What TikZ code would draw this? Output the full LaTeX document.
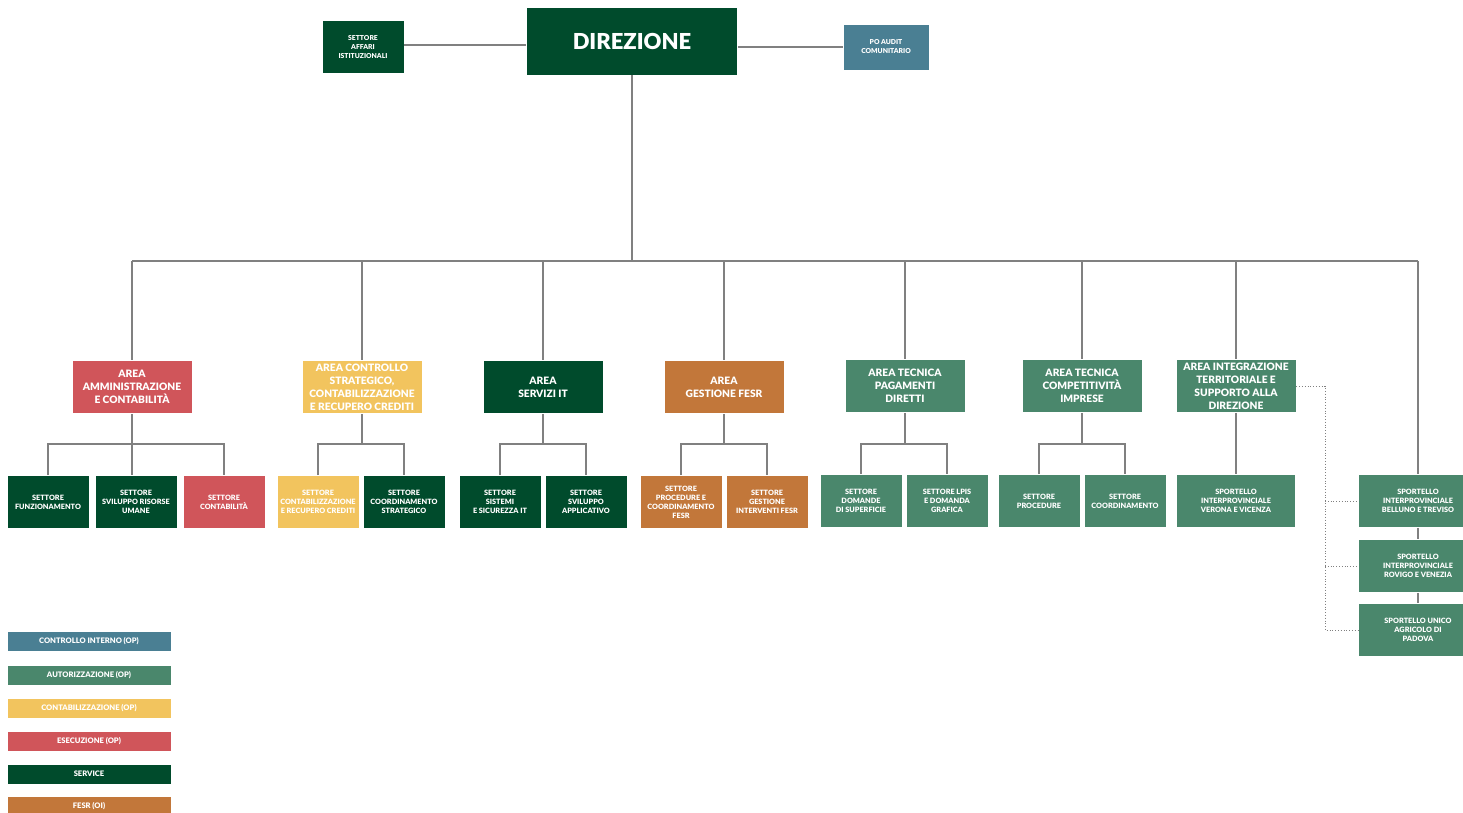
\documentclass[tikz,border=0pt]{standalone}
\usepackage{fontspec}
\setmainfont{Lato}[BoldFont={Lato Black}]
\usepackage{tikz}
\usetikzlibrary{positioning,calc}
\definecolor{palDark}{HTML}{004B2C}
\definecolor{palSteel}{HTML}{4A7F93}
\definecolor{palGreen}{HTML}{4A876C}
\definecolor{palYellow}{HTML}{F2C45E}
\definecolor{palRed}{HTML}{D0555A}
\definecolor{palOrange}{HTML}{C2773A}
\definecolor{palLine}{HTML}{808080}
\tikzset{
  box/.style={rectangle, draw=white, line width=0.6pt, text=white,
              align=center, inner sep=1pt, font=\bfseries},
  topnode/.style={box, minimum width=82pt, minimum height=53pt,
                  font=\bfseries\fontsize{6.8}{9}\selectfont},
  dirnode/.style={box, minimum width=211pt, minimum height=68pt,
                  font=\bfseries\fontsize{22}{26}\selectfont},
  areanode/.style={box, minimum width=120pt, minimum height=53pt,
                   font=\bfseries\fontsize{10.2}{13}\selectfont},
  setnode/.style={box, minimum width=82pt, minimum height=53pt,
                  font=\bfseries\fontsize{7.3}{9}\selectfont},
  sptnode/.style={setnode, minimum width=119pt},
  legnode/.style={box, minimum width=164pt, minimum height=20pt,
                  font=\bfseries\fontsize{7.6}{8}\selectfont},
  conn/.style={draw=palLine, line width=1.4pt},
  dotline/.style={draw=palLine, dotted, line width=0.8pt},
}

\begin{document}
\begin{tikzpicture}[x=1pt, y=-1pt]
\useasboundingbox (0,0) rectangle (1463,813);
%% Top level
\node[dirnode, fill=palDark] (dir) at (632,41) {DIREZIONE};
\node[topnode, fill=palDark] (aff) at (363,47) {SETTORE\\AFFARI\\ISTITUZIONALI};
\node[topnode, fill=palSteel, minimum width=86pt, minimum height=46pt] (audit) at (886,47) {PO AUDIT\\COMUNITARIO};
%% Areas
\node[areanode, fill=palRed] (a1) at (132,387) {AREA\\AMMINISTRAZIONE\\E CONTABILITÀ};
\node[areanode, fill=palYellow] (a2) at (362,387) {AREA CONTROLLO\\STRATEGICO,\\CONTABILIZZAZIONE\\E RECUPERO CREDITI};
\node[areanode, fill=palDark] (a3) at (543,387) {AREA\\SERVIZI IT};
\node[areanode, fill=palOrange] (a4) at (724,387) {AREA\\GESTIONE FESR};
\node[areanode, fill=palGreen] (a5) at (905,386) {AREA TECNICA\\PAGAMENTI\\DIRETTI};
\node[areanode, fill=palGreen] (a6) at (1082,386) {AREA TECNICA\\COMPETITIVITÀ\\IMPRESE};
\node[areanode, fill=palGreen] (a7) at (1236,386) {AREA INTEGRAZIONE\\TERRITORIALE E\\SUPPORTO ALLA\\DIREZIONE};
%% Settori
\node[setnode, fill=palDark] (s11) at (48,502) {SETTORE\\FUNZIONAMENTO};
\node[setnode, fill=palDark] (s12) at (136,502) {SETTORE\\SVILUPPO RISORSE\\UMANE};
\node[setnode, fill=palRed] (s13) at (224,502) {SETTORE\\CONTABILITÀ};
\node[setnode, fill=palYellow] (s21) at (318,502) {SETTORE\\CONTABILIZZAZIONE\\E RECUPERO CREDITI};
\node[setnode, fill=palDark] (s22) at (404,502) {SETTORE\\COORDINAMENTO\\STRATEGICO};
\node[setnode, fill=palDark] (s31) at (500,502) {SETTORE\\SISTEMI\\E SICUREZZA IT};
\node[setnode, fill=palDark] (s32) at (586,502) {SETTORE\\SVILUPPO\\APPLICATIVO};
\node[setnode, fill=palOrange] (s41) at (681,502) {SETTORE\\PROCEDURE E\\COORDINAMENTO\\FESR};
\node[setnode, fill=palOrange] (s42) at (767,502) {SETTORE\\GESTIONE\\INTERVENTI FESR};
\node[setnode, fill=palGreen] (s51) at (861,501) {SETTORE\\DOMANDE\\DI SUPERFICIE};
\node[setnode, fill=palGreen] (s52) at (947,501) {SETTORE LPIS\\E DOMANDA\\GRAFICA};
\node[setnode, fill=palGreen] (s61) at (1039,501) {SETTORE\\PROCEDURE};
\node[setnode, fill=palGreen] (s62) at (1125,501) {SETTORE\\COORDINAMENTO};
\node[sptnode, fill=palGreen] (s71) at (1236,501) {SPORTELLO\\INTERPROVINCIALE\\VERONA E VICENZA};
%% Sportelli on the right
\node[sptnode, fill=palGreen] (sp1) at (1418,501) {SPORTELLO\\INTERPROVINCIALE\\BELLUNO E TREVISO};
\node[sptnode, fill=palGreen] (sp2) at (1418,566) {SPORTELLO\\INTERPROVINCIALE\\ROVIGO E VENEZIA};
\node[sptnode, fill=palGreen] (sp3) at (1418,630) {SPORTELLO UNICO\\AGRICOLO DI\\PADOVA};
%% Legend
\node[legnode, fill=palSteel] (l1) at (89,641) {CONTROLLO INTERNO (OP)};
\node[legnode, fill=palGreen] (l2) at (89,675) {AUTORIZZAZIONE (OP)};
\node[legnode, fill=palYellow] (l3) at (89,708) {CONTABILIZZAZIONE (OP)};
\node[legnode, fill=palRed] (l4) at (89,741) {ESECUZIONE (OP)};
\node[legnode, fill=palDark] (l5) at (89,774) {SERVICE};
\node[legnode, fill=palOrange] (l6) at (89,806) {FESR (OI)};
%% Edges
\coordinate (top) at (632,261);
\coordinate (bus) at (0,444);
\draw[conn] (aff.east |- 0,45) -- (dir.west |- 0,45);
\draw[conn] (dir.east |- audit.west) -- (audit.west);
\draw[conn] (dir.south) -- (top);
\draw[conn] (a1.north |- top) -- (sp1.north |- top);
\foreach \n in {a1,a2,a3,a4,a5,a6,a7,sp1}
  \draw[conn] (\n.north |- top) -- (\n.north);
\foreach \a/\l/\r in {a1/s11/s13, a2/s21/s22, a3/s31/s32, a4/s41/s42,
                     a5/s51/s52, a6/s61/s62} {
  \draw[conn] (\a.south) -- (\a.south |- bus);
  \draw[conn] (\l.north) |- (\r.north |- bus) -- (\r.north);
}
\draw[conn] (a1.south |- bus) -- (a1.south |- s12.north);
\draw[conn] (a7.south) -- (s71.north);
\draw[conn] (sp1.south) -- (sp2.north);
\draw[conn] (sp2.south) -- (sp3.north);
\coordinate (dv) at (1325,0);
\draw[dotline] (a7.east) -| (dv |- sp3.west) -- (sp3.west);
\draw[dotline] (dv |- sp1.west) -- (sp1.west);
\draw[dotline] (dv |- sp2.west) -- (sp2.west);
\end{tikzpicture}
\end{document}
